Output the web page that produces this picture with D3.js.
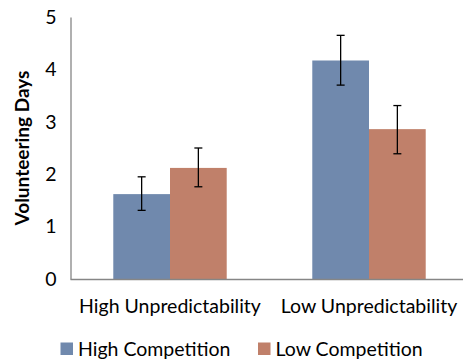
<!DOCTYPE html>
<html><head><meta charset="utf-8">
<script src="https://cdn.jsdelivr.net/npm/d3@7"></script>
<style>body{margin:0;background:#fff}svg{display:block;font-family:Lato,"Open Sans",sans-serif}</style>
</head><body>
<svg id="c" width="463" height="361"></svg>
<script>
const categories = ["High Unpredictability", "Low Unpredictability"];
const seriesNames = ["High Competition", "Low Competition"];
const highComp = [1.62, 4.17];
const lowComp = [2.12, 2.86];
const highCompErr = [[1.31, 1.95], [3.70, 4.65]];
const lowCompErr = [[1.76, 2.50], [2.39, 3.31]];
const yTicks = [0, 1, 2, 3, 4, 5];
const colors = ["#7089AD", "#C0806A"];

const svg = d3.select("#c");
const m = {l: 70.5, t: 17, b: 279};
const x0 = d3.scaleBand().domain(categories).range([m.l, m.l + 398]).paddingInner(0.43).paddingOuter(0.215);
const x1 = d3.scaleBand().domain(seriesNames).range([0, x0.bandwidth()]);
const y = d3.scaleLinear().domain([0, 5]).range([m.b, m.t]);

const data = categories.map((c, i) => ({c, vals: [
  {s: seriesNames[0], v: highComp[i], e: highCompErr[i]},
  {s: seriesNames[1], v: lowComp[i], e: lowCompErr[i]}]}));

const g = svg.selectAll("g.grp").data(data).join("g").attr("transform", d => `translate(${x0(d.c)},0)`);
g.selectAll("rect").data(d => d.vals).join("rect")
  .attr("x", d => x1(d.s)).attr("width", x1.bandwidth())
  .attr("y", d => y(d.v)).attr("height", d => y(0) - y(d.v))
  .attr("fill", (d, i) => colors[i]);

// error bars
g.selectAll("g.err").data(d => d.vals).join("g").each(function(d) {
  const cx = x1(d.s) + x1.bandwidth() / 2;
  const s = d3.select(this);
  s.append("line").attr("x1", cx).attr("x2", cx).attr("y1", y(d.e[0])).attr("y2", y(d.e[1])).attr("stroke", "#000").attr("stroke-width", 1.3);
  s.append("line").attr("x1", cx - 4).attr("x2", cx + 4).attr("y1", y(d.e[0])).attr("y2", y(d.e[0])).attr("stroke", "#000").attr("stroke-width", 1.3);
  s.append("line").attr("x1", cx - 4).attr("x2", cx + 4).attr("y1", y(d.e[1])).attr("y2", y(d.e[1])).attr("stroke", "#000").attr("stroke-width", 1.3);
});

// axes
const yAxis = d3.axisLeft(y).tickValues(yTicks).tickFormat(d3.format("d")).tickSize(0).tickPadding(14);
const ya = svg.append("g").attr("transform", `translate(${m.l},0)`).call(yAxis);
ya.select(".domain").attr("stroke", "#868686").attr("stroke-width", 1.3);
ya.selectAll("text").attr("font-size", 19.5).attr("font-family", "Lato").attr("fill", "#000");

const xAxis = d3.axisBottom(x0).tickSize(0).tickPadding(20);
const xa = svg.append("g").attr("transform", `translate(0,${m.b})`).call(xAxis);
xa.select(".domain").attr("d", `M${m.l},0.5H463`).attr("stroke", "#868686").attr("stroke-width", 1.3);
xa.selectAll("text").attr("font-size", 19.5).attr("font-family", "Lato").attr("fill", "#000");

// y title
svg.append("text").attr("transform", "translate(29,148) rotate(-90)").attr("text-anchor", "middle")
  .attr("font-size", 19).attr("font-weight", "bold").text("Volunteering Days");

// legend
const legX = [60.5, 258];
const lg = svg.selectAll("g.leg").data(seriesNames).join("g").attr("transform", (d, i) => `translate(${legX[i]},349)`);
lg.append("rect").attr("x", 0).attr("y", -6.5).attr("width", 12.5).attr("height", 12.5).attr("fill", (d, i) => colors[i]);
lg.append("text").attr("x", 17.5).attr("dy", "0.35em").attr("font-size", 19.5).text(d => d);
</script>
</body></html>
